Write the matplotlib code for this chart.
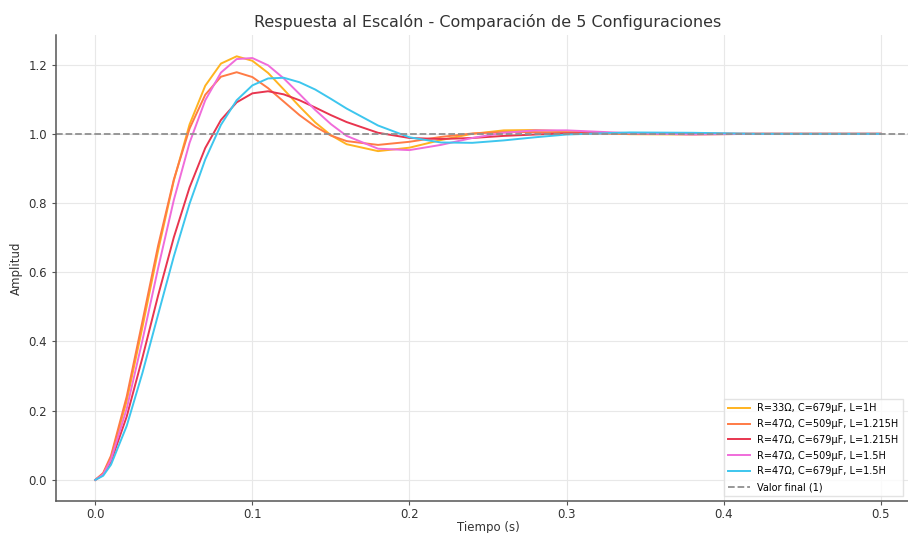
import numpy as np
import matplotlib
matplotlib.use('Agg')
import matplotlib.pyplot as plt

tiempo = [0, 0.005, 0.01, 0.02, 0.03, 0.04, 0.05, 0.06, 0.07, 0.08, 0.09, 0.10, 0.11,
          0.12, 0.13, 0.14, 0.15, 0.16, 0.18, 0.20, 0.22, 0.24, 0.26, 0.28, 0.30,
          0.34, 0.38, 0.42, 0.46, 0.50]

y_r33_c679_l1 = [0, 0.018, 0.065, 0.228, 0.441, 0.663, 0.865, 1.027, 1.139, 1.203, 1.224,
                 1.211, 1.176, 1.128, 1.079, 1.033, 0.996, 0.970, 0.950, 0.960, 0.982,
                 1.000, 1.010, 1.011, 1.007, 0.999, 0.998, 1.000, 1.000, 1.000]
y_r47_c509_l1215 = [0, 0.020, 0.070, 0.241, 0.458, 0.677, 0.868, 1.015, 1.113, 1.165, 1.178,
                    1.164, 1.132, 1.093, 1.054, 1.021, 0.995, 0.979, 0.968, 0.977, 0.991,
                    1.001, 1.005, 1.005, 1.003, 1.000, 1.000, 1.000, 1.000, 1.000]
y_r47_c679_l1215 = [0, 0.015, 0.053, 0.183, 0.353, 0.533, 0.701, 0.845, 0.959, 1.040, 1.091,
                    1.117, 1.123, 1.114, 1.097, 1.076, 1.054, 1.034, 1.003, 0.988, 0.985,
                    0.988, 0.994, 0.998, 1.001, 1.002, 1.001, 1.000, 1.000, 1.000]
y_r47_c509_l15 = [0, 0.016, 0.059, 0.206, 0.403, 0.612, 0.809, 0.974, 1.097, 1.177, 1.216,
                  1.219, 1.198, 1.160, 1.115, 1.069, 1.028, 0.994, 0.957, 0.953, 0.968,
                  0.988, 1.003, 1.010, 1.010, 1.002, 0.998, 1.000, 1.000, 1.000]
y_r47_c679_l15 = [0, 0.012, 0.044, 0.156, 0.309, 0.478, 0.646, 0.798, 0.926, 1.026, 1.097,
                  1.140, 1.160, 1.162, 1.149, 1.128, 1.101, 1.073, 1.024, 0.990, 0.975,
                  0.974, 0.981, 0.990, 0.998, 1.004, 1.003, 1.000, 1.000, 1.000]

etiquetas = ['R=33Ω, C=679μF, L=1H',
             'R=47Ω, C=509μF, L=1.215H',
             'R=47Ω, C=679μF, L=1.215H',
             'R=47Ω, C=509μF, L=1.5H',
             'R=47Ω, C=679μF, L=1.5H']
series = [y_r33_c679_l1, y_r47_c509_l1215, y_r47_c679_l1215, y_r47_c509_l15, y_r47_c679_l15]
colores = ['#FFB320', '#FF7B45', '#E8354F', '#F06CDA', '#3DC6EE']

fig = plt.figure(figsize=(9.08, 5.33), dpi=100)
# the original picture is cropped on the right, so the axes go past the figure edge
ax = fig.add_axes([0.0617, 0.060, 0.9515, 0.8743])

for y, lab, col in zip(series, etiquetas, colores):
    ax.plot(tiempo, y, color=col, lw=1.4, label=lab)

ax.axhline(1, color='#909090', ls='--', lw=1.3, label='Valor final (1)')

ax.set_xlim(-0.025, 0.525)
ax.set_ylim(-0.061, 1.2855)
ax.set_xticks(np.arange(0, 0.51, 0.1))
ax.set_yticks(np.arange(0, 1.21, 0.2))

ax.grid(True, color='#e8e8e8', lw=0.8)
ax.set_axisbelow(True)
for s in ['top', 'right']:
    ax.spines[s].set_visible(False)
for s in ['left', 'bottom']:
    ax.spines[s].set_color('#555555')
    ax.spines[s].set_linewidth(1.1)
ax.tick_params(colors='#333333', labelsize=8.5, length=3, color='#555555')
ax.tick_params(axis='x', pad=2)

ax.set_title('Respuesta al Escalón - Comparación de 5 Configuraciones', fontsize=11.5,
             color='#333333', pad=6)
ax.set_xlabel('Tiempo (s)', fontsize=8.5, color='#333333', labelpad=0)
ax.set_ylabel('Amplitud', fontsize=8.5, color='#333333', labelpad=4)

ax.legend(loc='lower left', bbox_to_anchor=(0.768, 0.0), fontsize=7, frameon=True,
          edgecolor='#dddddd', fancybox=False, handlelength=2.2, labelspacing=0.6)

plt.savefig('out.png', dpi=100)
